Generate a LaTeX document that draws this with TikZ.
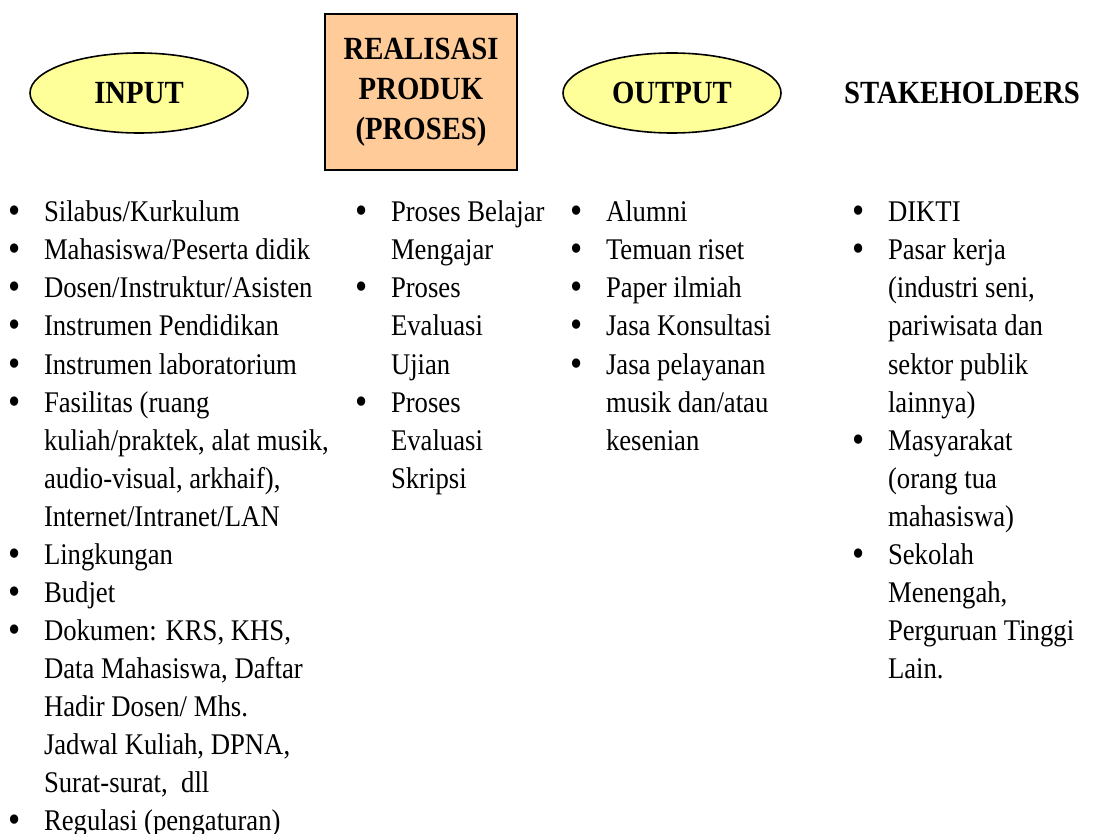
\documentclass[tikz,border=0pt]{standalone}
\usepackage{fontspec}
\setmainfont{Liberation Serif}[FakeStretch=0.89]
\usepackage{graphicx}
\usetikzlibrary{shapes.geometric,positioning}
\definecolor{kuning}{HTML}{FFFF99}
\definecolor{oranye}{HTML}{FFCC99}
\newcommand{\butir}{\strut\llap{\raisebox{-2pt}{\scalebox{1.3}{\textbullet}}\hskip 23pt}}

\begin{document}
\begin{tikzpicture}
[x=1pt,y=-1pt, inner sep=0pt,
judul/.style={font=\fontsize{32.3}{40}\selectfont\bfseries},
elips/.style={ellipse,draw,line width=1.6pt,fill=kuning,
  minimum width=218,minimum height=80,judul},
kotak/.style={rectangle,draw,line width=1.6pt,fill=oranye,
  minimum width=192,minimum height=156,align=center,judul},
isi/.style={anchor=north west,align=left,outer sep=0pt,
  font=\fontsize{30}{38.08}\selectfont}]
\useasboundingbox (0,0) rectangle (1099,834);

% judul kolom
\node (input) [elips] at (139,93) {INPUT};
\node (proses) [kotak] at (421,92) {REALISASI\\PRODUK\\(PROSES)};
\node (output) [elips] at (672,93) {OUTPUT};
\node (stake) [judul] at (962,93) {STAKEHOLDERS};

% input
\node (in1) [isi] at (44,195.04) {\butir Silabus/Kurkulum\strut};
\node (in2) [isi] at (in1.south west) {\butir Mahasiswa/Peserta didik\strut};
\node (in3) [isi] at (in2.south west) {\butir Dosen/Instruktur/Asisten\strut};
\node (in4) [isi] at (in3.south west) {\butir Instrumen Pendidikan\strut};
\node (in5) [isi] at (in4.south west) {\butir Instrumen laboratorium\strut};
\node (in6) [isi] at (in5.south west) {\butir Fasilitas (ruang\\kuliah/praktek, alat musik,\\audio-visual, arkhaif),\\Internet/Intranet/LAN\strut};
\node (in7) [isi] at (in6.south west) {\butir Lingkungan\strut};
\node (in8) [isi] at (in7.south west) {\butir Budjet\strut};
\node (in9) [isi] at (in8.south west) {\butir Dokumen: KRS, KHS,\\Data Mahasiswa, Daftar\\Hadir Dosen/ Mhs.\\Jadwal Kuliah, DPNA,\\Surat-surat,\ \ dll\strut};
\node (in10) [isi] at (in9.south west) {\butir Regulasi (pengaturan)\strut};

% proses
\node (pr1) [isi] at (391,195.04) {\butir Proses Belajar\\Mengajar\strut};
\node (pr2) [isi] at (pr1.south west) {\butir Proses\\Evaluasi\\Ujian\strut};
\node (pr3) [isi] at (pr2.south west) {\butir Proses\\Evaluasi\\Skripsi\strut};

% output
\node (out1) [isi] at (606,195.04) {\butir Alumni\strut};
\node (out2) [isi] at (out1.south west) {\butir Temuan riset\strut};
\node (out3) [isi] at (out2.south west) {\butir Paper ilmiah\strut};
\node (out4) [isi] at (out3.south west) {\butir Jasa Konsultasi\strut};
\node (out5) [isi] at (out4.south west) {\butir Jasa pelayanan\\musik dan/atau\\kesenian\strut};

% stakeholders
\node (st1) [isi] at (888,195.04) {\butir DIKTI\strut};
\node (st2) [isi] at (st1.south west) {\butir Pasar kerja\\(industri seni,\\pariwisata dan\\sektor publik\\lainnya)\strut};
\node (st3) [isi] at (st2.south west) {\butir Masyarakat\\(orang tua\\mahasiswa)\strut};
\node (st4) [isi] at (st3.south west) {\butir Sekolah\\Menengah,\\Perguruan Tinggi\\Lain.\strut};

\end{tikzpicture}
\end{document}
